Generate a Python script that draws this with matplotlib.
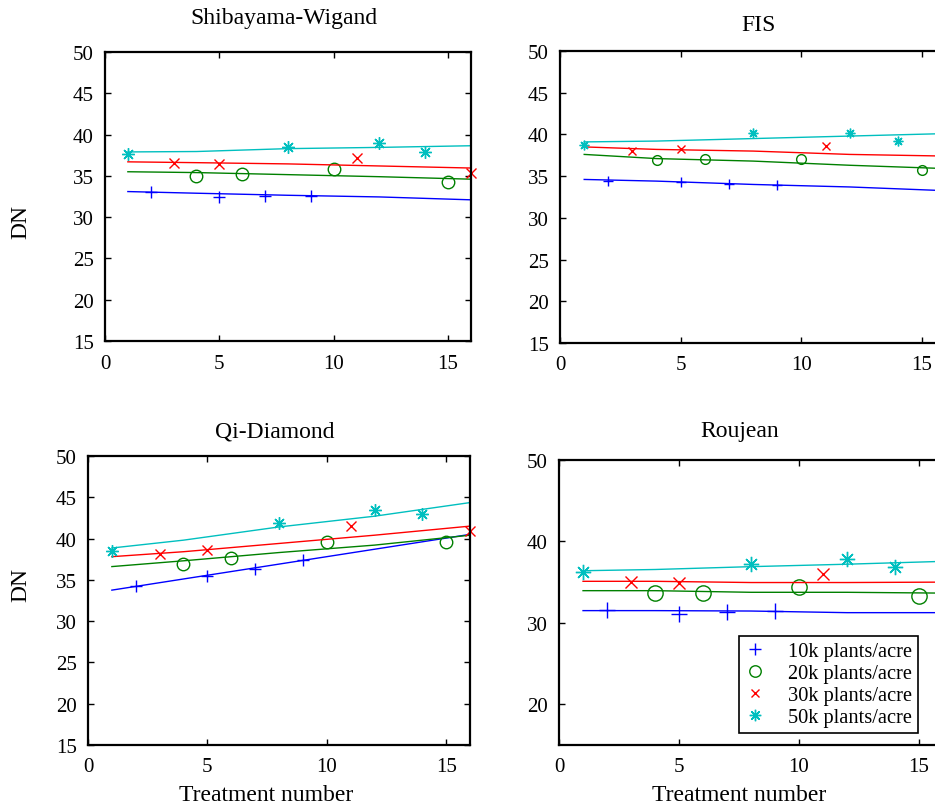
import numpy as np
import matplotlib
matplotlib.use('Agg')
import matplotlib.pyplot as plt

plt.rcParams['font.family'] = ['Liberation Serif', 'DejaVu Serif']

# ---- data ------------------------------------------------------------
densities = ['10k plants/acre', '20k plants/acre', '30k plants/acre', '50k plants/acre']
colours = ['#0000ff', '#008000', '#ff0000', '#00bfbf']
markers = ['+', 'o', 'x', (8, 2, 0)]

# treatment numbers measured for each planting density
treat_x = [[2, 5, 7, 9], [4, 6, 10, 15], [3, 5, 11, 16], [1, 8, 12, 14]]
# treatment numbers where the model curve is evaluated
fit_x = [1, 4, 8, 12, 16]

titles = ['Shibayama-Wigand', 'FIS', 'Qi-Diamond', 'Roujean']

sw_obs = [[33.05, 32.5, 32.6, 32.6], [35.0, 35.2, 35.8, 34.3],
          [36.5, 36.4, 37.2, 35.3], [37.6, 38.5, 39.0, 37.9]]
sw_fit = [[33.1, 32.9, 32.65, 32.45, 32.1], [35.5, 35.4, 35.15, 34.9, 34.6],
          [36.7, 36.6, 36.45, 36.2, 35.95], [37.9, 37.95, 38.3, 38.45, 38.65]]

fis_obs = [[34.45, 34.3, 34.1, 33.9], [36.9, 37.0, 37.05, 35.7],
           [38.0, 38.25, 38.55, 38.2], [38.75, 40.15, 40.2, 39.15]]
fis_fit = [[34.6, 34.4, 34.0, 33.7, 33.25], [37.6, 37.1, 36.8, 36.3, 35.9],
           [38.5, 38.2, 38.0, 37.6, 37.4], [39.1, 39.2, 39.5, 39.8, 40.1]]

qd_obs = [[34.2, 35.5, 36.3, 37.4], [36.9, 37.6, 39.6, 39.6],
          [38.1, 38.6, 41.5, 40.9], [38.5, 41.9, 43.5, 43.0]]
qd_fit = [[33.75, 35.1, 36.9, 38.7, 40.5], [36.6, 37.3, 38.3, 39.2, 40.4],
          [37.8, 38.4, 39.4, 40.4, 41.5], [38.85, 39.8, 41.4, 42.7, 44.35]]

rj_obs = [[31.6, 31.1, 31.35, 31.45], [33.7, 33.7, 34.45, 33.3],
          [35.0, 34.9, 36.0, 35.0], [36.25, 37.2, 37.8, 36.85]]
rj_fit = [[31.5, 31.5, 31.45, 31.25, 31.25], [33.95, 33.95, 33.75, 33.75, 33.65],
          [35.1, 35.1, 34.95, 34.95, 35.0], [36.4, 36.55, 36.9, 37.2, 37.55]]

# ---- layout ------------------------------------------------------------
fig = plt.figure(figsize=(9.35, 8.12), dpi=100)

# the right-hand panels run past the page edge
positions = [[0.1123, 0.5788, 0.3914, 0.3559],
             [0.5990, 0.5764, 0.4130, 0.3596],
             [0.0941, 0.0813, 0.4086, 0.3560],
             [0.5979, 0.0813, 0.4107, 0.3510]]
title_xy = [(0.49, 1.121), (0.513, 1.092), (0.49, 1.087), (0.47, 1.102)]
obs_sets = [sw_obs, fis_obs, qd_obs, rj_obs]
fit_sets = [sw_fit, fis_fit, qd_fit, rj_fit]
msizes = [9, 7, 9, 11]

axes = []
for i in range(4):
    ax = fig.add_axes(positions[i])
    for k in range(4):
        ax.plot(fit_x, fit_sets[i][k], '-', color=colours[k], lw=1.0)
        ms = msizes[i]
        if markers[k] == 'x':
            ms = ms * 0.75
        ax.plot(treat_x[k], obs_sets[i][k], linestyle='none', marker=markers[k],
                color=colours[k], mfc='none', ms=ms, mew=1.0, label=densities[k],
                clip_on=False)
    ax.set_xlim(0, 16)
    ax.set_ylim(15, 50)
    ax.set_xticks([0, 5, 10, 15])
    if i == 3:
        ax.set_yticks([20, 30, 40, 50])
    else:
        ax.set_yticks([15, 20, 25, 30, 35, 40, 45, 50])
    ax.tick_params(direction='in', top=True, right=True, labelsize=15,
                   length=4, width=1)
    ax.tick_params(axis='x', pad=9)
    ax.tick_params(axis='y', pad=8)
    for s in ax.spines.values():
        s.set_linewidth(1.6)
    ax.set_title(titles[i], fontsize=17, pad=0, x=title_xy[i][0], y=title_xy[i][1],
                 va='center')
    axes.append(ax)

axes[0].set_ylabel('DN', fontsize=17)
axes[0].yaxis.set_label_coords(-0.202, 0.415)
axes[2].set_ylabel('DN', fontsize=17)
axes[2].yaxis.set_label_coords(-0.149, 0.557)
axes[2].set_xlabel('Treatment number', fontsize=17)
axes[2].xaxis.set_label_coords(0.466, -0.135)
axes[3].set_xlabel('Treatment number', fontsize=17)
axes[3].xaxis.set_label_coords(0.469, -0.137)

handles, labels = axes[3].get_legend_handles_labels()
leg = axes[3].legend(handles, labels, loc='upper left',
                     bbox_to_anchor=(0.790, 0.2155), bbox_transform=fig.transFigure,
                     fontsize=14.7, frameon=True, fancybox=False, edgecolor='black',
                     framealpha=1, markerscale=0.75, handlelength=1.0,
                     handletextpad=1.1, labelspacing=0.12, borderpad=0.3,
                     borderaxespad=0)
leg.get_frame().set_linewidth(1.2)

fig.savefig('out.png', dpi=100)
